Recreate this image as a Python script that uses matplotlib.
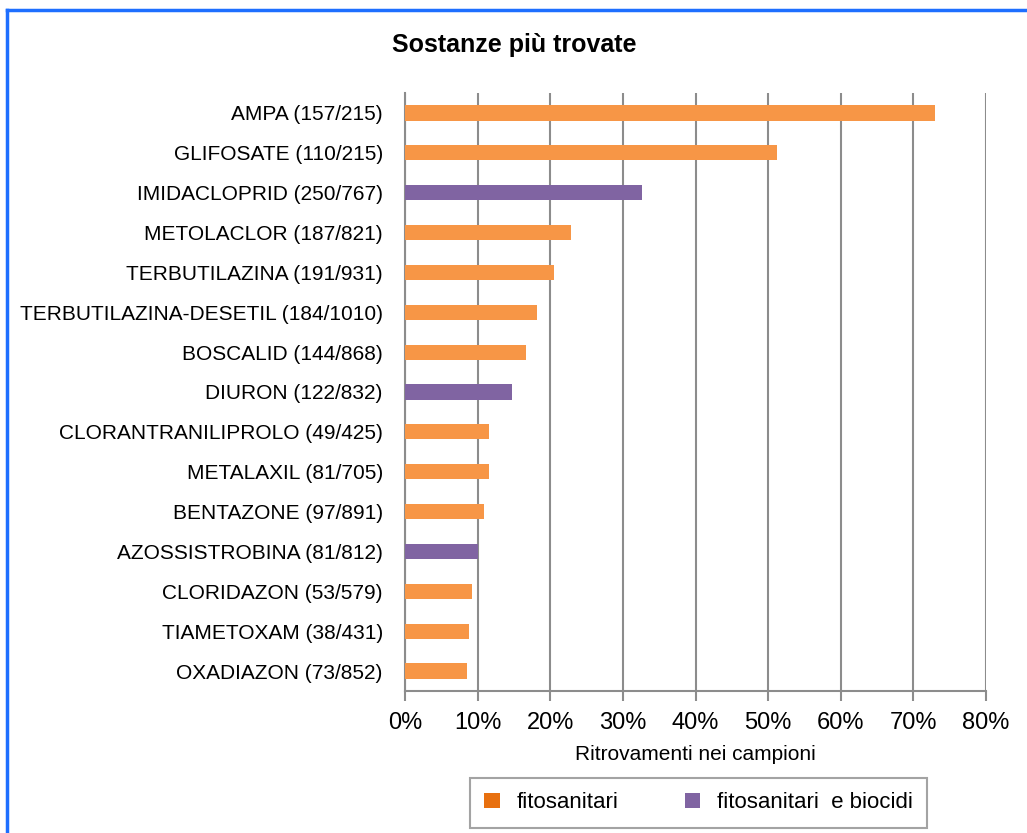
import matplotlib.pyplot as plt
from matplotlib.patches import Patch
from matplotlib.lines import Line2D
from matplotlib.ticker import PercentFormatter

plt.rcParams["font.family"] = ["Liberation Sans", "DejaVu Sans"]

labels = [
    "AMPA (157/215)",
    "GLIFOSATE (110/215)",
    "IMIDACLOPRID (250/767)",
    "METOLACLOR (187/821)",
    "TERBUTILAZINA (191/931)",
    "TERBUTILAZINA-DESETIL (184/1010)",
    "BOSCALID (144/868)",
    "DIURON (122/832)",
    "CLORANTRANILIPROLO (49/425)",
    "METALAXIL (81/705)",
    "BENTAZONE (97/891)",
    "AZOSSISTROBINA (81/812)",
    "CLORIDAZON (53/579)",
    "TIAMETOXAM (38/431)",
    "OXADIAZON (73/852)",
]
values = [73.0, 51.2, 32.6, 22.8, 20.5, 18.2, 16.6, 14.7, 11.5, 11.5, 10.9, 10.0, 9.2, 8.8, 8.6]
groups = ["f", "f", "b", "f", "f", "f", "f", "b", "f", "f", "f", "b", "f", "f", "f"]

orange = "#F79646"
purple = "#8064A2"
colors = [orange if g == "f" else purple for g in groups]

fig = plt.figure(figsize=(10.27, 8.33), dpi=100)
ax = fig.add_axes([405 / 1027, 1 - 691 / 833, (986 - 405) / 1027, (691 - 93) / 833])

ax.barh(range(len(values)), values, height=0.38, color=colors, zorder=3)
ax.set_ylim(len(values) - 0.5, -0.5)
ax.set_xlim(0, 80)
ax.set_xticks(range(0, 81, 10))
ax.xaxis.set_major_formatter(PercentFormatter(decimals=0))
ax.set_yticks(range(len(values)))
ax.set_yticklabels(labels)

ax.grid(axis="x", color="#8C8C8C", linewidth=1.5, zorder=0)
for s in ["top", "right"]:
    ax.spines[s].set_visible(False)
for s in ["left", "bottom"]:
    ax.spines[s].set_color("#8C8C8C")
    ax.spines[s].set_linewidth(1.5)
ax.tick_params(axis="y", length=0, labelsize=15, pad=16)
ax.tick_params(axis="x", length=7, width=1.5, color="#8C8C8C", labelsize=17, pad=8)

ax.set_xlabel("Ritrovamenti nei campioni", fontsize=15, labelpad=8)
fig.text(0.501, 1 - 45 / 833, "Sostanze più trovate", ha="center", va="center",
         fontsize=18, fontweight="bold")

handles = [
    Patch(facecolor="#E8700F", label="fitosanitari"),
    Patch(facecolor=purple, label="fitosanitari  e biocidi"),
]
leg = fig.legend(handles=handles, loc="upper left", ncol=2, fontsize=16,
                 bbox_to_anchor=(470 / 1027, 1 - 778 / 833), frameon=True, fancybox=False,
                 handlelength=0.68, handleheight=0.68, columnspacing=3.0,
                 handletextpad=0.75, borderpad=0.65, borderaxespad=0)
leg.get_frame().set_edgecolor("#8C8C8C")
leg.get_frame().set_linewidth(1.5)

fig.add_artist(Line2D([7 / 1027, 7 / 1027], [0, 1 - 10 / 833], color="#1E6FFF", linewidth=2.5))
fig.add_artist(Line2D([7 / 1027, 1], [1 - 10 / 833, 1 - 10 / 833], color="#1E6FFF", linewidth=2.5))

fig.savefig("out.png", dpi=100)
